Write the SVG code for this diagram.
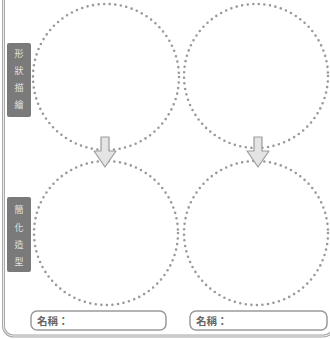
<svg xmlns="http://www.w3.org/2000/svg" width="330" height="339" viewBox="0 0 330 339">
<style>
.frame{fill:none;stroke:#a8a8a8;stroke-width:3}
.frame2{fill:none;stroke:#ffffff;stroke-width:0.8}
.dot{fill:none;stroke:#9a9a9a;stroke-width:2.6;stroke-linecap:round;stroke-dasharray:0 5.6}
.arrow{fill:#e4e4e4;stroke:#9c9c9c;stroke-width:1.2;stroke-linejoin:round}
.tag{fill:#7a7a7a}
.tagt{fill:#e2e2e2;font-family:"Noto Sans CJK TC","Noto Sans CJK SC",sans-serif;font-size:9px;text-anchor:middle}
.box{fill:#ffffff;stroke:#9a9a9a;stroke-width:1.5}
.name{fill:#666666;font-family:"Noto Sans CJK TC","Noto Sans CJK SC",sans-serif;font-size:10.5px;font-weight:bold}
</style>
<rect class="frame" x="3.5" y="-20" width="330" height="356" rx="10"/>
<rect class="frame2" x="3.5" y="-20" width="330" height="356" rx="10"/>
<g id="circle-tl"><circle class="dot" cx="106" cy="77" r="73"/></g>
<g id="circle-tr"><circle class="dot" cx="256" cy="76" r="72"/></g>
<g id="circle-bl"><circle class="dot" cx="106" cy="233" r="72"/></g>
<g id="circle-br"><circle class="dot" cx="256" cy="233" r="72"/></g>
<g id="connectors">
<path class="arrow" d="M101,137 H109 V151 H116 L105,167 L94,151 H101 Z"/>
<path class="arrow" d="M254,137 H262 V151 H269 L258,167 L247,151 H254 Z"/>
</g>
<g id="tag-top">
<rect class="tag" x="7" y="43" width="24" height="74" rx="2"/>
<text class="tagt" x="19" y="57">形</text>
<text class="tagt" x="19" y="74">狀</text>
<text class="tagt" x="19" y="91">描</text>
<text class="tagt" x="19" y="108">繪</text>
</g>
<g id="tag-bottom">
<rect class="tag" x="7" y="197" width="24" height="75" rx="2"/>
<text class="tagt" x="19" y="213">簡</text>
<text class="tagt" x="19" y="231">化</text>
<text class="tagt" x="19" y="248">造</text>
<text class="tagt" x="19" y="265">型</text>
</g>
<g id="name-left">
<rect class="box" x="31" y="311" width="135" height="19" rx="6"/>
<text class="name" x="37" y="325">名稱：</text>
</g>
<g id="name-right">
<rect class="box" x="190" y="311" width="137" height="19" rx="6"/>
<text class="name" x="196" y="325">名稱：</text>
</g>
</svg>
